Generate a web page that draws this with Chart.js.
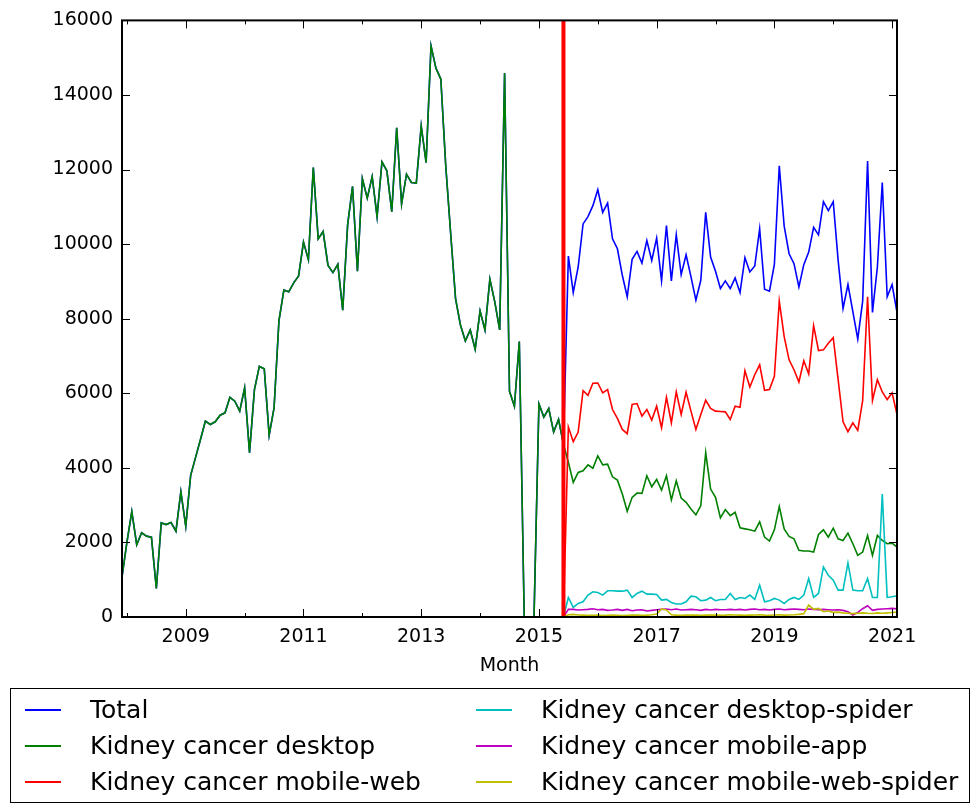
<!DOCTYPE html>
<html>
<head>
<meta charset="utf-8">
<script src="https://cdn.jsdelivr.net/npm/chart.js@4.4.0/dist/chart.umd.min.js"></script>
<style>
  html, body { margin: 0; padding: 0; background: #fff; }
  #wrap { position: relative; width: 977px; height: 809px; }
  #legend { position: absolute; left: 10px; top: 688px; width: 960px; height: 115px; border: 1.5px solid #000; box-sizing: border-box; font-family: 'DejaVu Sans'; font-size: 25px; color: #000; }
  .item { position: absolute; height: 30px; line-height: 30px; display: flex; align-items: center; white-space: nowrap; }
  .swatch { width: 36px; height: 0; border-top: 2px solid; margin-right: 29px; }
</style>
</head>
<body>
<div id="wrap">
  <canvas id="pageviewsChart"></canvas>
  <div id="legend"></div>
</div>
<script>
// old single series (Dec 2007 .. Jun 2015), same for Total and desktop
const oldViews = [1075, 2000, 2827, 1938, 2258, 2169, 2142, 764, 2524, 2480, 2533, 2302, 3360,
  2436, 3800, 4280, 4760, 5253, 5164, 5236, 5413, 5476, 5893, 5787, 5520,
  6142, 4409, 6098, 6720, 6658, 4880, 5609, 7950, 8765, 8720, 8960, 9147,
  10053, 9582, 12053, 10142, 10338, 9431, 9236, 9458, 8231, 10516, 11547, 9271,
  11760, 11235, 11813, 10738, 12205, 11965, 10871, 13120, 11075, 11875, 11653, 11635,
  13165, 12187, 15315, 14720, 14427, 12100, 10300, 8541, 7831, 7404, 7698, 7182,
  8205, 7700, 9058, 8453, 7700, 14587, 6053, 5653, 7387, 0, 0, 0,
  5715, 5360, 5591, 4960, 5298, 4631];

// new API series (Jul 2015 .. Feb 2021)
const totalNew = [9680, 8702, 9387, 10542, 10738, 11031, 11458, 10853, 11102, 10142, 9876, 9164,
  8587, 9591, 9804, 9493, 10098, 9564, 10160, 9013, 10498, 9013, 10249, 9182,
  9716, 9120, 8498, 9031, 10853, 9653, 9271, 8809, 9013, 8809, 9093, 8702,
  9636, 9253, 9413, 10409, 8791, 8738, 9458, 12098, 10480, 9742, 9476, 8853,
  9449, 9787, 10453, 10249, 11138, 10898, 11138, 9564, 8276, 8916, 8187, 7458,
  8471, 12231, 8169, 9387, 11653, 8587, 8916, 8169];
const desktopNew = [4150, 3609, 3876, 3920, 4080, 3991, 4320, 4080, 4098, 3760, 3671, 3298,
  2836, 3209, 3324, 3316, 3787, 3493, 3689, 3404, 3787, 3138, 3653, 3191,
  3076, 2898, 2738, 2987, 4409, 3431, 3209, 2658, 2880, 2720, 2809, 2391,
  2364, 2338, 2302, 2551, 2142, 2036, 2338, 2960, 2364, 2160, 2098, 1787,
  1769, 1769, 1742, 2213, 2338, 2142, 2382, 2098, 2053, 2249, 1964, 1653,
  1742, 2187, 1653, 2187, 2053, 1964, 1982, 1876];
const mobileWebNew = [5093, 4702, 4960, 6071, 5947, 6267, 6276, 6009, 6098, 5564, 5324, 5031,
  4916, 5698, 5724, 5387, 5564, 5280, 5653, 5076, 5893, 5209, 6036, 5431,
  6027, 5520, 5031, 5431, 5813, 5591, 5520, 5511, 5502, 5298, 5653, 5627,
  6604, 6169, 6498, 6764, 6080, 6098, 6453, 8471, 7520, 6898, 6631, 6302,
  6871, 6516, 7813, 7147, 7164, 7342, 7493, 6364, 5236, 4969, 5209, 5004,
  5804, 8587, 5804, 6364, 6036, 5831, 6009, 5431];
const desktopSpiderNew = [524, 258, 364, 409, 587, 676, 658, 587, 702, 702, 693, 693,
  720, 524, 631, 693, 613, 613, 604, 453, 471, 391, 347, 347,
  409, 560, 542, 436, 453, 524, 436, 471, 471, 631, 471, 524,
  498, 587, 471, 853, 409, 436, 498, 453, 364, 471, 524, 471,
  587, 1031, 524, 631, 1342, 1120, 987, 720, 720, 1449, 720, 702,
  702, 1031, 524, 524, 3298, 524, 542, 569];
const mobileAppNew = [204, 204, 187, 196, 204, 222, 196, 204, 178, 187, 204, 178,
  204, 169, 187, 196, 160, 178, 196, 204, 213, 196, 213, 187,
  196, 204, 196, 178, 204, 187, 204, 196, 196, 204, 196, 204,
  187, 204, 213, 196, 204, 187, 204, 213, 196, 204, 213, 204,
  196, 213, 204, 196, 204, 196, 187, 196, 178, 142, 53, 125,
  222, 302, 178, 204, 213, 222, 231, 222];
const mobileWebSpiderNew = [60, 70, 55, 50, 45, 45, 50, 40, 45, 50, 45, 40,
  45, 50, 55, 45, 50, 60, 80, 213, 190, 60, 50, 45,
  50, 55, 50, 45, 50, 55, 50, 45, 50, 60, 55, 50,
  45, 50, 55, 60, 50, 45, 55, 60, 50, 55, 60, 70,
  90, 320, 204, 231, 142, 160, 124, 130, 110, 100, 90, 100,
  110, 100, 95, 110, 100, 110, 120, 130];

const seriesNames = ['Total', 'Kidney cancer desktop', 'Kidney cancer mobile-web',
  'Kidney cancer desktop-spider', 'Kidney cancer mobile-app', 'Kidney cancer mobile-web-spider'];
const seriesColors = ['#0000ff', '#008000', '#ff0000', '#00bfbf', '#bf00bf', '#bfbf00'];

const xTickLabels = ['2009', '2011', '2013', '2015', '2017', '2019', '2021'];
const yTicks = [0, 2000, 4000, 6000, 8000, 10000, 12000, 14000, 16000];
const splitMonth = '2015-06';

// month categories, starting Dec 2007
const months = [];
for (let i = 0; i < oldViews.length + totalNew.length; i++) {
    const m = 11 + i;
    months.push((2007 + Math.floor(m / 12)) + '-' + String(m % 12 + 1).padStart(2, '0'));
}

const zeros = new Array(oldViews.length).fill(0);
const seriesData = [
    oldViews.concat(totalNew),
    oldViews.concat(desktopNew),
    zeros.concat(mobileWebNew),
    zeros.concat(desktopSpiderNew),
    zeros.concat(mobileAppNew),
    zeros.concat(mobileWebSpiderNew)
];

const frameAndTicks = {
    id: 'frameAndTicks',
    afterDatasetsDraw(chart) {
        const { ctx, chartArea: a, scales: { x } } = chart;
        const px = x.getPixelForValue(months.indexOf(splitMonth));
        ctx.save();
        ctx.strokeStyle = '#ff0000';
        ctx.lineWidth = 4;
        ctx.beginPath();
        ctx.moveTo(px, a.top);
        ctx.lineTo(px, a.bottom);
        ctx.stroke();
        ctx.restore();
    },
    afterDraw(chart) {
        const { ctx, chartArea: a, scales: { x, y } } = chart;
        ctx.save();
        ctx.strokeStyle = '#000';
        ctx.lineWidth = 1;
        ctx.beginPath();
        months.forEach((m, i) => {
            if (!m.endsWith('-01')) return;
            const len = xTickLabels.includes(m.slice(0, 4)) ? 8 : 4;
            const px = Math.round(x.getPixelForValue(i)) + 0.5;
            ctx.moveTo(px, a.bottom); ctx.lineTo(px, a.bottom - len);
            ctx.moveTo(px, a.top); ctx.lineTo(px, a.top + len);
        });
        yTicks.forEach(v => {
            const py = Math.round(y.getPixelForValue(v)) + 0.5;
            ctx.moveTo(a.left, py); ctx.lineTo(a.left + 8, py);
            ctx.moveTo(a.right, py); ctx.lineTo(a.right - 8, py);
        });
        ctx.stroke();
        ctx.lineWidth = 2;
        ctx.strokeRect(a.left, a.top, a.right - a.left, a.bottom - a.top);
        ctx.restore();
    }
};

const ctx = document.getElementById('pageviewsChart').getContext('2d');
new Chart(ctx, {
    type: 'line',
    data: {
        labels: months,
        datasets: seriesNames.map((name, i) => ({
            label: name,
            data: seriesData[i],
            borderColor: seriesColors[i],
            borderWidth: 1.6,
            pointRadius: 0,
            tension: 0,
            fill: false,
            order: seriesNames.length - i
        }))
    },
    options: {
        responsive: true,
        maintainAspectRatio: false,
        animation: false,
        events: [],
        layout: { padding: { left: 0, top: 16, right: 80, bottom: 122 } },
        plugins: { legend: { display: false }, tooltip: { enabled: false } },
        scales: {
            x: {
                type: 'category',
                offset: false,
                grid: { display: false, drawTicks: false },
                border: { display: false },
                ticks: {
                    autoSkip: false,
                    maxRotation: 0,
                    padding: 9,
                    color: '#000',
                    font: { family: 'DejaVu Sans', size: 19 },
                    callback: (v, i) => {
                        const m = months[i];
                        return m.endsWith('-01') && xTickLabels.includes(m.slice(0, 4)) ? m.slice(0, 4) : null;
                    }
                },
                title: {
                    display: true,
                    text: 'Month',
                    color: '#000',
                    font: { family: 'DejaVu Sans', size: 19 },
                    padding: { top: 0, bottom: 10 }
                },
                afterFit: s => { s.height = 70; }
            },
            y: {
                min: 0,
                max: 16000,
                grid: { display: false, drawTicks: false },
                border: { display: false },
                afterBuildTicks: s => { s.ticks = yTicks.map(v => ({ value: v })); },
                ticks: {
                    padding: 9,
                    color: '#000',
                    font: { family: 'DejaVu Sans', size: 19 },
                    callback: v => String(v)
                },
                afterFit: s => { s.width = 122; }
            }
        }
    },
    plugins: [frameAndTicks]
});

// legend in two columns, column-major like the reference
const legend = document.getElementById('legend');
seriesNames.forEach((name, i) => {
    const col = Math.floor(i / 3), row = i % 3;
    const item = document.createElement('div');
    item.className = 'item';
    item.style.left = (col === 0 ? 14 : 465) + 'px';
    item.style.top = (6 + row * 36) + 'px';
    const sw = document.createElement('span');
    sw.className = 'swatch';
    sw.style.borderTopColor = seriesColors[i];
    const txt = document.createElement('span');
    txt.textContent = name;
    item.appendChild(sw);
    item.appendChild(txt);
    legend.appendChild(item);
});
</script>
</body>
</html>
